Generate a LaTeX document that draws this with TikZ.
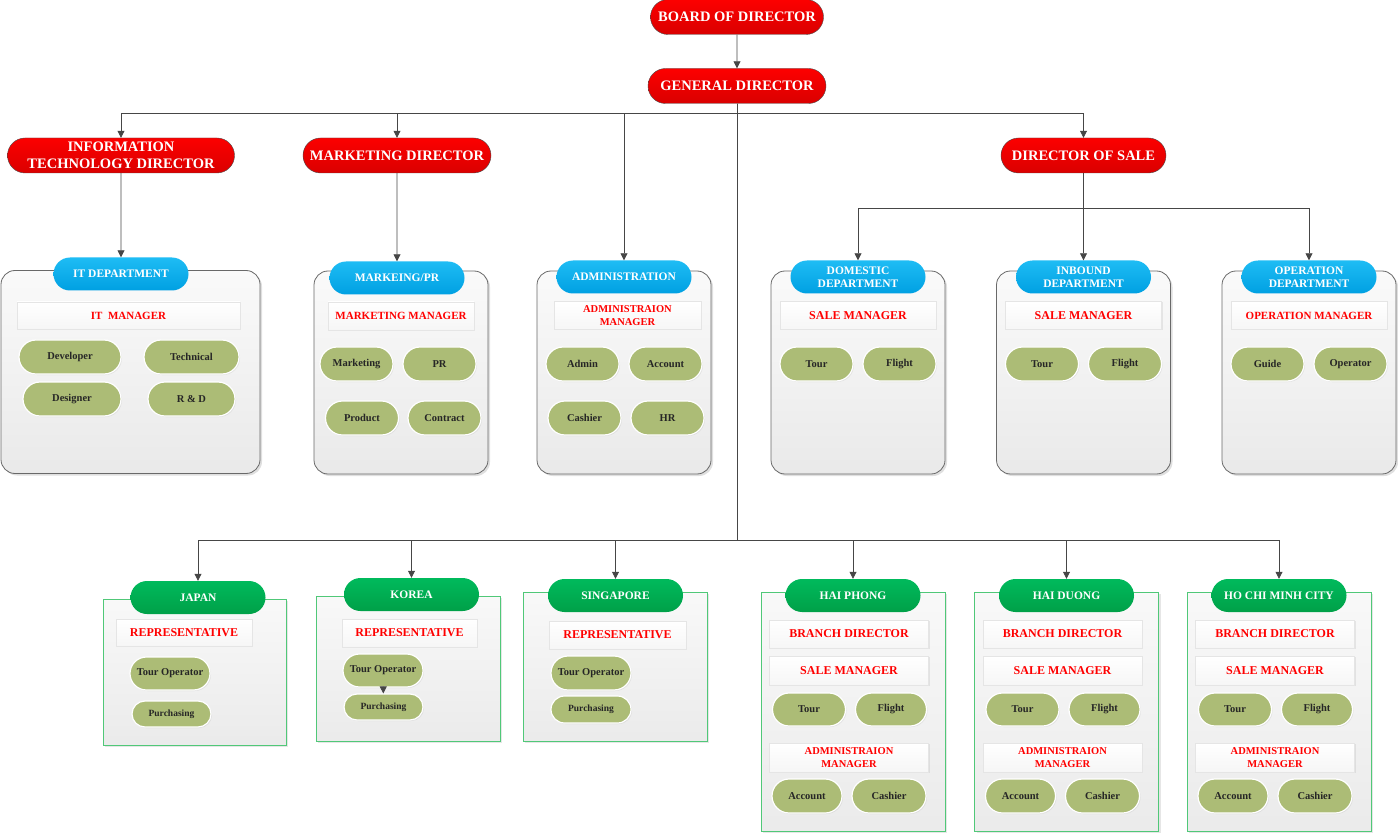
\documentclass[tikz,border=0pt]{standalone}
\usepackage{fontspec}
\setmainfont{Liberation Serif}
\usetikzlibrary{arrows.meta,shapes.misc,shadows}

\definecolor{redtop}{RGB}{252,0,0}
\definecolor{redbot}{RGB}{218,0,0}
\definecolor{bluetop}{RGB}{30,188,244}
\definecolor{bluebot}{RGB}{0,160,226}
\definecolor{grntop}{RGB}{0,186,92}
\definecolor{grnbot}{RGB}{0,160,72}
\definecolor{jobgreen}{RGB}{172,188,118}
\definecolor{linegray}{RGB}{70,70,70}
\definecolor{boxline}{RGB}{105,105,105}
\definecolor{brline}{RGB}{80,200,120}

\begin{document}
\begin{tikzpicture}[x=1pt,y=-1pt,
    every node/.style={font=\bfseries, inner sep=1pt, align=center},
    chief/.style={rounded rectangle, draw=gray!60!black, top color=redtop, bottom color=redbot,
      text=white, minimum height=35pt, font=\bfseries\fontsize{14.5}{17}\selectfont},
    dept/.style={rounded rectangle, top color=bluetop, bottom color=bluebot, text=white,
      minimum width=137pt, minimum height=33pt, font=\bfseries\fontsize{11.5}{13.5}\selectfont},
    office/.style={rounded rectangle, top color=grntop, bottom color=grnbot, text=white,
      minimum width=137pt, minimum height=33pt, font=\bfseries\fontsize{11.5}{13.5}\selectfont},
    group/.style={rectangle, rounded corners=14pt, draw=boxline, line width=0.8pt,
      top color=gray!4, bottom color=gray!17,
      drop shadow={shadow xshift=2pt, shadow yshift=-2pt, opacity=0.25}},
    brbox/.style={rectangle, draw=brline, line width=0.9pt, top color=gray!5, bottom color=gray!16,
      drop shadow={shadow xshift=2pt, shadow yshift=-2pt, opacity=0.2}},
    mgr/.style={rectangle, draw=gray!20, top color=white, bottom color=gray!7, text=red,
      minimum height=28pt, font=\bfseries\fontsize{12}{13}\selectfont,
      drop shadow={shadow xshift=1pt, shadow yshift=-1pt, opacity=0.15}},
    smgr/.style={mgr, font=\bfseries\fontsize{11}{12.5}\selectfont},
    amgr/.style={mgr, font=\bfseries\fontsize{10.5}{12.5}\selectfont},
    job/.style={rounded rectangle, draw=white, line width=1.2pt, fill=jobgreen, text=black!85,
      minimum height=34pt, font=\bfseries\fontsize{10.5}{12}\selectfont,
      drop shadow={shadow xshift=1pt, shadow yshift=-1pt, opacity=0.15}},
    pjob/.style={job, minimum height=26pt, font=\bfseries\fontsize{9.5}{11}\selectfont},
    arr/.style={draw=linegray, line width=0.8pt, -{Triangle[width=7pt,length=7pt]}}
  ]
  \useasboundingbox (0,0) rectangle (1398,834);

  % directors
  \node[chief, minimum width=175pt] (board) at (737,17) {BOARD OF DIRECTOR};
  \node[chief, minimum width=180pt] (gd) at (737,86) {GENERAL DIRECTOR};
  \node[chief, minimum width=229pt] (itd) at (121,155.5) {INFORMATION\\TECHNOLOGY DIRECTOR};
  \node[chief, minimum width=190pt] (mkd) at (397,155.5) {MARKETING DIRECTOR};
  \node[chief, minimum width=167pt] (sld) at (1083.5,155.5) {DIRECTOR OF SALE};

  \coordinate (busA) at (0,113);
  \coordinate (busB) at (0,208);
  \coordinate (busC) at (0,540);

  % it department
  \node[group, minimum width=259pt, minimum height=203pt] (it-grp) at (130.5,372) {};
  \node[dept] (it-hdr) at (121,274) {IT DEPARTMENT};
  \node[smgr, minimum width=223pt, minimum height=27pt] (it-mgr) at (128.5,315.5) {IT\ \ MANAGER};
  \foreach \n/\x/\y/\w/\t in {dev/70/357/104/Developer, tec/191.5/357/97/Technical,
                              des/72/399/100/Designer, rnd/191.5/399/89/R \& D}
    \node[job, minimum width=\w pt] (it-\n) at (\x,\y) {\t};

  % marketing
  \node[group, minimum width=174pt, minimum height=203pt] (mk-grp) at (401,372.5) {};
  \node[dept] (mk-hdr) at (397,278) {MARKEING/PR};
  \node[smgr, minimum width=146pt] (mk-mgr) at (401,316) {MARKETING MANAGER};
  \foreach \n/\x/\y/\t in {mkt/356.5/364/Marketing, pr/439.5/364/PR,
                           prd/362/418/Product, ctr/444.5/418/Contract}
    \node[job, minimum width=75pt] (mk-\n) at (\x,\y) {\t};

  % administration
  \node[group, minimum width=174pt, minimum height=203pt] (adm-grp) at (624,372.5) {};
  \node[dept] (adm-hdr) at (624,277) {ADMINISTRATION};
  \node[amgr, minimum width=147pt] (adm-mgr) at (627.5,315.5) {ADMINISTRAION\\MANAGER};
  \foreach \n/\x/\y/\t in {adm/582.5/364/Admin, acc/665.5/364/Account,
                           cas/584.5/418/Cashier, hr/667.5/418/HR}
    \node[job, minimum width=75pt] (adm-\n) at (\x,\y) {\t};

  % sale departments
  \foreach \n/\x/\t/\m/\fs/\a/\b in {dom/858/DOMESTIC\\DEPARTMENT/SALE MANAGER/12/Tour/Flight,
      inb/1083.5/INBOUND\\DEPARTMENT/SALE MANAGER/12/Tour/Flight,
      opr/1309/OPERATION\\DEPARTMENT/OPERATION MANAGER/11/Guide/Operator} {
    \node[group, minimum width=174pt, minimum height=203pt] (\n-grp) at (\x,372.5) {};
    \node[dept] (\n-hdr) at (\x,277) {\t};
    \node[mgr, minimum width=156pt, font=\bfseries\fontsize{\fs}{13}\selectfont] (\n-mgr) at (\x,315.5) {\m};
    \node[job, minimum width=75pt] (\n-a) at (\x-41.5,364) {\a};
    \node[job, minimum width=75pt] (\n-b) at (\x+41.5,364) {\b};
  }

  % representative offices
  \node[brbox, minimum width=183pt, minimum height=146pt] (jp-box) at (194.5,672) {};
  \node[office] (jp-hdr) at (198,597.5) {JAPAN};
  \node[mgr, minimum width=136pt, minimum height=27pt] (jp-rep) at (184,632.5) {REPRESENTATIVE};
  \node[job, minimum width=82pt, minimum height=33pt] (jp-tour) at (170,673.5) {Tour Operator};
  \node[pjob, minimum width=81pt] (jp-pur) at (171.5,714) {Purchasing};

  \node[brbox, minimum width=184pt, minimum height=145pt] (kr-box) at (408,668.5) {};
  \node[office] (kr-hdr) at (411.5,594.5) {KOREA};
  \node[mgr, minimum width=135pt] (kr-rep) at (409.5,633) {REPRESENTATIVE};
  \node[job, minimum width=82pt, minimum height=33pt] (kr-tour) at (383,670.5) {Tour Operator};
  \node[pjob, minimum width=81pt] (kr-pur) at (383.5,707) {Purchasing};

  \node[brbox, minimum width=184pt, minimum height=149pt] (sg-box) at (615,666.5) {};
  \node[office] (sg-hdr) at (615.5,595.5) {SINGAPORE};
  \node[mgr, minimum width=137pt] (sg-rep) at (617.5,635) {REPRESENTATIVE};
  \node[job, minimum width=82pt] (sg-tour) at (591,673) {Tour Operator};
  \node[pjob, minimum width=82pt, minimum height=27pt] (sg-pur) at (591,709.5) {Purchasing};

  % branches
  \foreach \n/\x/\t in {hp/853/HAI PHONG, hd/1066.5/HAI DUONG, hcm/1279/HO CHI MINH CITY} {
    \node[brbox, minimum width=184pt, minimum height=239pt] (\n-box) at (\x,711.5) {};
    \node[office] (\n-hdr) at (\x,595.5) {\t};
    \node[mgr, minimum width=159pt] (\n-dir) at (\x-4,634) {BRANCH DIRECTOR};
    \node[mgr, minimum width=159pt, minimum height=29pt] (\n-sale) at (\x-4,670.5) {SALE MANAGER};
    \node[job, minimum width=75pt, minimum height=33pt] (\n-tour) at (\x-44,709.5) {Tour};
    \node[job, minimum width=73pt, minimum height=33pt] (\n-flt) at (\x+38,709.5) {Flight};
    \node[amgr, minimum width=159pt, minimum height=29pt] (\n-adm) at (\x-4,757.5) {ADMINISTRAION\\MANAGER};
    \node[job, minimum width=72pt] (\n-acc) at (\x-46,796) {Account};
    \node[job, minimum width=76pt] (\n-cas) at (\x+36,796) {Cashier};
  }

  % connectors
  \draw[arr] (board) -- (gd);
  \foreach \n in {itd, mkd, adm-hdr, sld}
    \draw[arr] (gd.south) -- (gd.south |- busA) -| (\n.north);
  \draw[arr] (itd) -- (it-hdr);
  \draw[arr] (mkd) -- (mk-hdr);
  \foreach \n in {dom, inb, opr}
    \draw[arr] (sld.south) -- (sld.south |- busB) -| (\n-hdr.north);
  \foreach \n in {jp, kr, sg, hp, hd, hcm}
    \draw[arr] (gd.south) -- (gd.south |- busC) -| (\n-hdr.north);
  \draw[arr] (kr-tour) -- (kr-pur);
\end{tikzpicture}
\end{document}
